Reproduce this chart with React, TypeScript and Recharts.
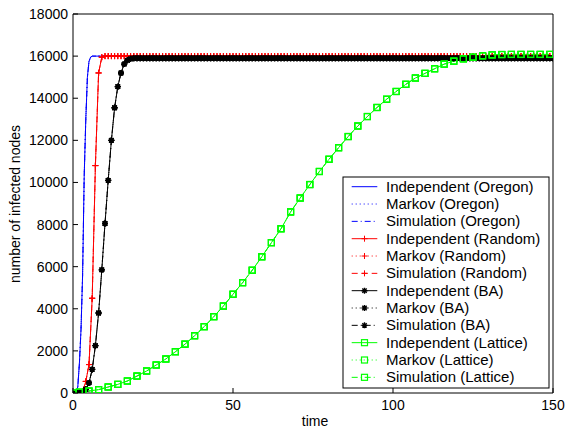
import React from "react";
import { LineChart, Line, XAxis, YAxis } from "recharts";

const FONT = "'Liberation Sans', Arial, Helvetica, sans-serif";

// Oregon network: the curve rises almost at once, sampled every half time unit
const oregonTime = [0, 0.5, 1, 1.5, 2, 2.5, 3, 3.5, 4, 4.5, 5, 5.5, 6, 150];
const oregonInfected = [0, 0, 40, 300, 1400, 3000, 5600, 10300, 13000, 15000, 15750, 15950, 16000, 16000];

// Random and BA networks: one sample per time unit, t = 0..150
const randomInfected = [
  0, 0, 5, 80, 550, 1350, 4500, 10800, 15200, 15950,
  16000, 16000, 16000, 16000, 16000, 16000, 16000, 16000, 16000, 16000,
  16000, 16000, 16000, 16000, 16000, 16000, 16000, 16000, 16000, 16000,
  16000, 16000, 16000, 16000, 16000, 16000, 16000, 16000, 16000, 16000,
  16000, 16000, 16000, 16000, 16000, 16000, 16000, 16000, 16000, 16000,
  16000, 16000, 16000, 16000, 16000, 16000, 16000, 16000, 16000, 16000,
  16000, 16000, 16000, 16000, 16000, 16000, 16000, 16000, 16000, 16000,
  16000, 16000, 16000, 16000, 16000, 16000, 16000, 16000, 16000, 16000,
  16000, 16000, 16000, 16000, 16000, 16000, 16000, 16000, 16000, 16000,
  16000, 16000, 16000, 16000, 16000, 16000, 16000, 16000, 16000, 16000,
  16000, 16000, 16000, 16000, 16000, 16000, 16000, 16000, 16000, 16000,
  16000, 16000, 16000, 16000, 16000, 16000, 16000, 16000, 16000, 16000,
  16000, 16000, 16000, 16000, 16000, 16000, 16000, 16000, 16000, 16000,
  16000, 16000, 16000, 16000, 16000, 16000, 16000, 16000, 16000, 16000,
  16000, 16000, 16000, 16000, 16000, 16000, 16000, 16000, 16000, 16000,
  16000,
];

const baInfected = [
  0, 0, 10, 50, 180, 480, 1120, 2250, 3800, 5850,
  8050, 10100, 12000, 13550, 14550, 15200, 15620, 15800, 15870, 15900,
  15900, 15900, 15900, 15900, 15900, 15900, 15900, 15900, 15900, 15900,
  15900, 15900, 15900, 15900, 15900, 15900, 15900, 15900, 15900, 15900,
  15900, 15900, 15900, 15900, 15900, 15900, 15900, 15900, 15900, 15900,
  15900, 15900, 15900, 15900, 15900, 15900, 15900, 15900, 15900, 15900,
  15900, 15900, 15900, 15900, 15900, 15900, 15900, 15900, 15900, 15900,
  15900, 15900, 15900, 15900, 15900, 15900, 15900, 15900, 15900, 15900,
  15900, 15900, 15900, 15900, 15900, 15900, 15900, 15900, 15900, 15900,
  15900, 15900, 15900, 15900, 15900, 15900, 15900, 15900, 15900, 15900,
  15900, 15900, 15900, 15900, 15900, 15900, 15900, 15900, 15900, 15900,
  15900, 15900, 15900, 15900, 15900, 15900, 15900, 15900, 15900, 15900,
  15900, 15900, 15900, 15900, 15900, 15900, 15900, 15900, 15900, 15900,
  15900, 15900, 15900, 15900, 15900, 15900, 15900, 15900, 15900, 15900,
  15900, 15900, 15900, 15900, 15900, 15900, 15900, 15900, 15900, 15900,
  15900,
];

// Lattice network: sampled every 3 time units
const latticeTime = [
  0, 2, 5, 8, 11, 14, 17, 20, 23, 26, 29, 32, 35, 38, 41, 44, 47, 50, 53, 56,
  59, 62, 65, 68, 71, 74, 77, 80, 83, 86, 89, 92, 95, 98, 101, 104, 107, 110, 113, 116,
  119, 122, 125, 128, 131, 134, 137, 140, 143, 146, 149,
];
const latticeInfected = [
  0, 40, 95, 160, 285, 410, 570, 805, 1045, 1330, 1615, 1960, 2320, 2720, 3150, 3625, 4130, 4690, 5240, 5830,
  6470, 7140, 7800, 8600, 9260, 9900, 10520, 11100, 11650, 12180, 12680, 13130, 13560, 13950, 14320, 14660, 14960, 15180, 15400, 15620,
  15760, 15870, 15950, 16015, 16060, 16075, 16080, 16080, 16080, 16080, 16080,
];

const xTicks = [0, 50, 100, 150];
const yTicks = [0, 2000, 4000, 6000, 8000, 10000, 12000, 14000, 16000, 18000];

const oregon = oregonTime.map((t, i) => ({ t, v: oregonInfected[i] }));
const random = randomInfected.map((v, t) => ({ t, v }));
const ba = baInfected.map((v, t) => ({ t, v }));
const lattice = latticeTime.map((t, i) => ({ t, v: latticeInfected[i] }));

type Marker = "none" | "plus" | "star" | "square";

const SOLID = undefined;
const DOTTED = "1 3";
const DASHDOT = "6 3 1 3";
const DASHED = "6 4";

const series: { name: string; data: { t: number; v: number }[]; color: string; dash?: string; marker: Marker }[] = [
  { name: "Independent (Oregon)", data: oregon, color: "#0000ff", dash: SOLID, marker: "none" },
  { name: "Markov (Oregon)", data: oregon, color: "#0000ff", dash: DOTTED, marker: "none" },
  { name: "Simulation (Oregon)", data: oregon, color: "#0000ff", dash: DASHDOT, marker: "none" },
  { name: "Independent (Random)", data: random, color: "#ff0000", dash: SOLID, marker: "plus" },
  { name: "Markov (Random)", data: random, color: "#ff0000", dash: DOTTED, marker: "plus" },
  { name: "Simulation (Random)", data: random, color: "#ff0000", dash: DASHED, marker: "plus" },
  { name: "Independent (BA)", data: ba, color: "#000000", dash: SOLID, marker: "star" },
  { name: "Markov (BA)", data: ba, color: "#000000", dash: DOTTED, marker: "star" },
  { name: "Simulation (BA)", data: ba, color: "#000000", dash: DASHDOT, marker: "star" },
  { name: "Independent (Lattice)", data: lattice, color: "#00ff00", dash: SOLID, marker: "square" },
  { name: "Markov (Lattice)", data: lattice, color: "#00ff00", dash: DOTTED, marker: "square" },
  { name: "Simulation (Lattice)", data: lattice, color: "#00ff00", dash: DASHDOT, marker: "square" },
];

function MarkerShape({ kind, cx, cy, color }: { kind: Marker; cx: number; cy: number; color: string }) {
  if (kind === "plus") {
    return <path d={`M${cx - 3},${cy}H${cx + 3}M${cx},${cy - 3}V${cy + 3}`} stroke={color} strokeWidth={1} fill="none" />;
  }
  if (kind === "star") {
    const d = 2.2;
    return (
      <path
        d={`M${cx - 3},${cy}H${cx + 3}M${cx},${cy - 3}V${cy + 3}M${cx - d},${cy - d}L${cx + d},${cy + d}M${cx - d},${cy + d}L${cx + d},${cy - d}`}
        stroke={color}
        strokeWidth={1.4}
        fill="none"
      />
    );
  }
  if (kind === "square") {
    return <rect x={cx - 3} y={cy - 3} width={6} height={6} stroke={color} strokeWidth={1.2} fill="none" />;
  }
  return null;
}

const LeftTick = ({ x, y, payload }: any) => (
  <g>
    <line x1={x} x2={x + 5} y1={y} y2={y} stroke="#000" />
    <text x={x - 5} y={y + 5} textAnchor="end" fontSize={14} fontFamily={FONT} fill="#000">
      {payload.value}
    </text>
  </g>
);

const RightTick = ({ x, y }: any) => <line x1={x - 5} x2={x} y1={y} y2={y} stroke="#000" />;

const BottomTick = ({ x, y, payload }: any) => (
  <g>
    <line x1={x} x2={x} y1={y - 5} y2={y} stroke="#000" />
    <text x={x} y={y + 17} textAnchor="middle" fontSize={14} fontFamily={FONT} fill="#000">
      {payload.value}
    </text>
  </g>
);

const TopTick = ({ x, y }: any) => <line x1={x} x2={x} y1={y} y2={y + 5} stroke="#000" />;

function LegendBox() {
  const left = 343;
  const top = 177;
  const right = 549;
  const bottom = 388;
  const firstRow = 186.7;
  const step = 17.33;
  return (
    <svg width={568} height={431} style={{ position: "absolute", left: 0, top: 0, pointerEvents: "none" }}>
      <text transform="translate(19.5,204) rotate(-90)" textAnchor="middle" fontSize={14} fontFamily={FONT} fill="#000">
        number of infected nodes
      </text>
      <text x={315} y={426} textAnchor="middle" fontSize={14} fontFamily={FONT} fill="#000">
        time
      </text>
      <rect x={left} y={top} width={right - left} height={bottom - top} fill="#fff" stroke="#000" strokeWidth={1} />
      {series.map((s, i) => {
        const cy = firstRow + i * step;
        return (
          <g key={s.name}>
            <line x1={351.7} x2={377.3} y1={cy} y2={cy} stroke={s.color} strokeWidth={1} strokeDasharray={s.dash} />
            <MarkerShape kind={s.marker} cx={364.5} cy={cy} color={s.color} />
            <text x={386} y={cy + 5} fontSize={15} fontFamily={FONT} fill="#000">
              {s.name}
            </text>
          </g>
        );
      })}
    </svg>
  );
}

export default function App() {
  return (
    <div style={{ position: "absolute", left: 0, top: 0, width: 568, height: 431, background: "#fff" }}>
      <LineChart width={568} height={431} margin={{ top: 0, right: 0, bottom: 0, left: 0 }}>
        <XAxis
          dataKey="t"
          type="number"
          domain={[0, 150]}
          ticks={xTicks}
          height={38}
          tickSize={0}
          tickMargin={0}
          tickLine={false}
          axisLine={{ stroke: "#000" }}
          tick={<BottomTick />}
          allowDataOverflow
        />
        <XAxis
          xAxisId="top"
          orientation="top"
          type="number"
          domain={[0, 150]}
          ticks={xTicks}
          height={14}
          tickSize={0}
          tickMargin={0}
          tickLine={false}
          axisLine={{ stroke: "#000" }}
          tick={<TopTick />}
        />
        <YAxis
          type="number"
          domain={[0, 18000]}
          ticks={yTicks}
          width={73}
          tickSize={0}
          tickMargin={0}
          tickLine={false}
          axisLine={{ stroke: "#000" }}
          tick={<LeftTick />}
          allowDataOverflow
        />
        <YAxis
          yAxisId="right"
          orientation="right"
          type="number"
          domain={[0, 18000]}
          ticks={yTicks}
          width={15}
          tickSize={0}
          tickMargin={0}
          tickLine={false}
          axisLine={{ stroke: "#000" }}
          tick={<RightTick />}
        />
        {series.map((s) => (
          <Line
            key={s.name}
            name={s.name}
            data={s.data}
            dataKey="v"
            type="linear"
            stroke={s.color}
            strokeWidth={1}
            strokeDasharray={s.dash}
            isAnimationActive={false}
            activeDot={false}
            dot={
              s.marker === "none"
                ? false
                : (p: any) => <MarkerShape key={`${s.name}-${p.index}`} kind={s.marker} cx={p.cx} cy={p.cy} color={s.color} />
            }
          />
        ))}
      </LineChart>
      <LegendBox />
    </div>
  );
}
